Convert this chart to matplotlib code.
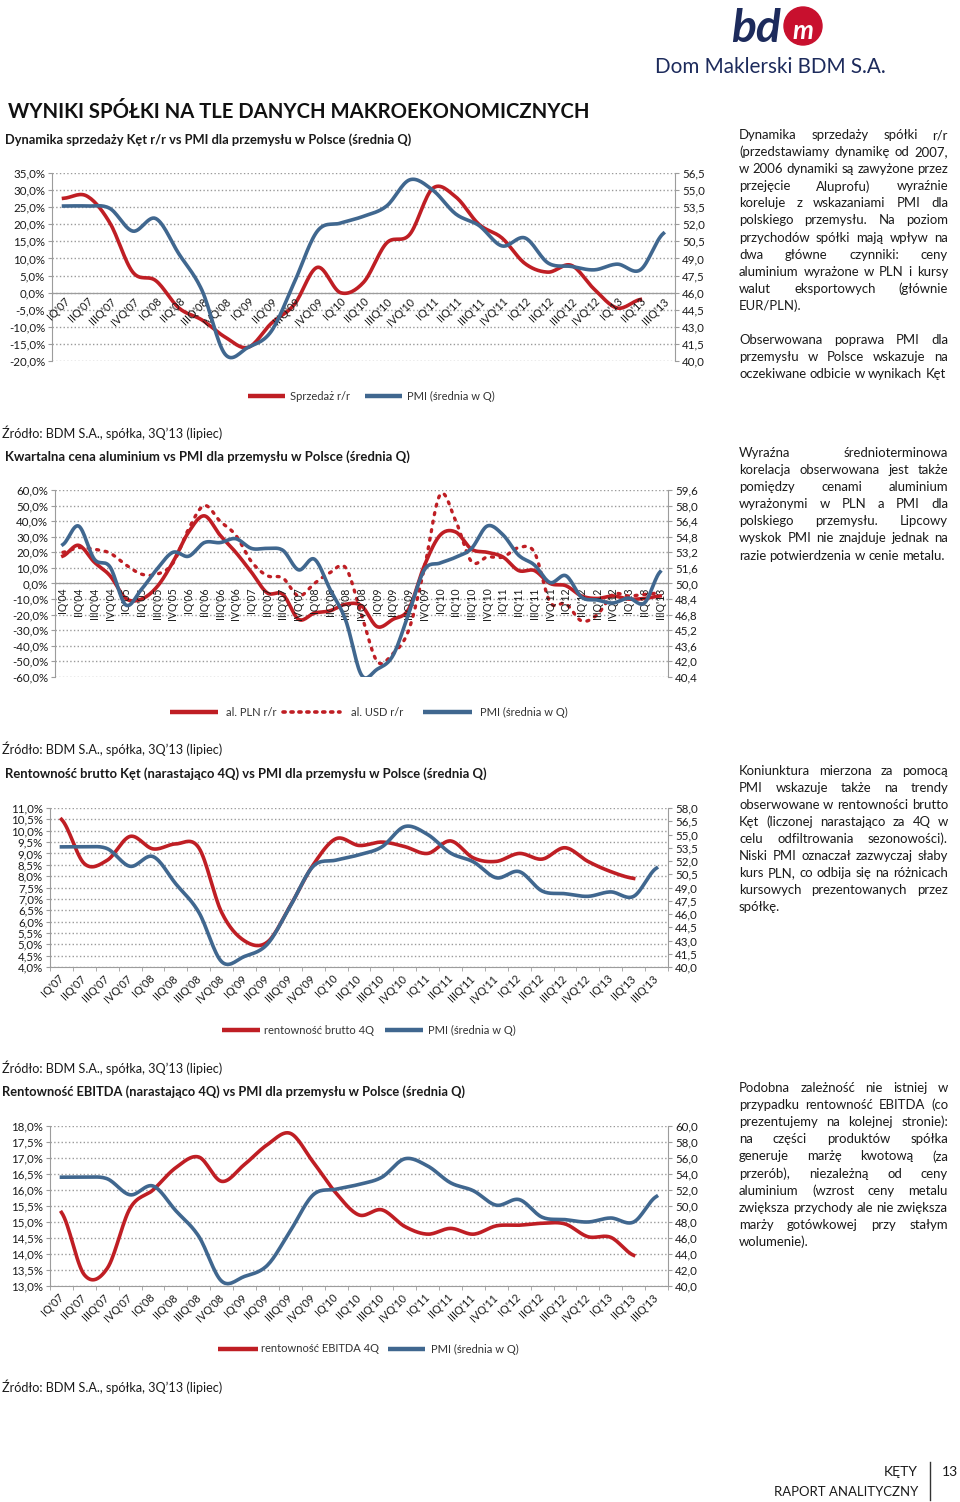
import numpy as np
import matplotlib
matplotlib.use('Agg')
import matplotlib.pyplot as plt
from matplotlib.ticker import FuncFormatter
from matplotlib.patches import Circle

plt.rcParams['font.family'] = ['Lato', 'DejaVu Sans']

# ---- data ----
kw07 = ["IQ'07", "IIQ'07", "IIIQ'07", "IVQ'07", "IQ'08", "IIQ'08", "IIIQ'08", "IVQ'08",
        "IQ'09", "IIQ'09", "IIIQ'09", "IVQ'09", "IQ'10", "IIQ'10", "IIIQ'10", "IVQ'10",
        "IQ'11", "IIQ'11", "IIIQ'11", "IVQ'11", "IQ'12", "IIQ'12", "IIIQ'12", "IVQ'12",
        "IQ'13", "IIQ'13", "IIIQ'13"]
kw04 = ["IQ'04", "IIQ'04", "IIIQ'04", "IVQ'04", "IQ'05", "IIQ'05", "IIIQ'05", "IVQ'05",
        "IQ'06", "IIQ'06", "IIIQ'06", "IVQ'06"] + kw07

pmi_0406 = [54.0, 55.9, 52.5, 51.7, 47.8, 49.4, 51.5, 53.2, 52.8, 54.2, 54.2, 54.6]
pmi_07 = [53.6, 53.6, 53.4, 51.4, 52.5, 49.4, 46.2, 40.6, 41.2, 42.6, 46.9, 51.4, 52.1,
          52.7, 53.6, 55.9, 55.0, 52.9, 51.9, 50.1, 50.8, 48.6, 48.3, 48.0, 48.5, 48.0, 51.2]

sprzedaz = [27.6, 28.3, 20.5, 6.0, 3.5, -4.5, -8.0, -13.0, -16.0, -9.0, -3.5, 7.4, 0.0,
            3.0, 14.5, 17.0, 30.5, 28.0, 20.0, 16.0, 8.5, 6.0, 8.0, 1.0, -4.5, -2.0]

al_pln = [17.6, 24.5, 13.7, 5.0, -9.6, -10.0, -2.0, 13.7, 33.0, 43.4, 31.0, 20.0, 7.2,
          -6.0, -7.0, -23.0, -19.0, -17.5, -13.3, -14.3, -27.7, -23.0, -16.5, 11.5, 31.0,
          33.0, 22.0, 20.0, 17.0, 8.3, 8.3, 0.0, -1.4, -8.0, -9.6, -8.0, -10.0, -9.6, -8.0]
al_usd = [20, 23, 22, 19.5, 12, 6, 6, 13, 35, 50, 40, 31, 14, 5, 3.5, -8, 0, 7, 10, -20,
          -50, -45, -30, 10, 57, 40, 14, 17, 17, 23, 20, -12, -13, -24, -20, -7, -8, -7, -6]

brutto = [10.5, 8.55, 8.7, 9.75, 9.2, 9.42, 9.25, 6.4, 5.15, 5.1, 6.7, 8.5, 9.65, 9.35,
          9.5, 9.3, 9.0, 9.55, 8.8, 8.65, 9.0, 8.75, 9.25, 8.65, 8.2, 7.9]
ebitda = [15.3, 13.35, 13.55, 15.43, 16.0, 16.7, 17.03, 16.27, 16.8, 17.42, 17.77, 16.87,
          15.9, 15.22, 15.38, 14.86, 14.62, 14.8, 14.62, 14.88, 14.9, 14.96, 14.94, 14.54,
          14.52, 13.96]

RED = '#BF1E24'
BLUE = '#40678F'
GRID = '#9a9a9a'
AXC = '#9c9c9c'
TXT = '#1a1a1a'

W, H = 960, 1502
fig = plt.figure(figsize=(9.6, 15.02), dpi=100)
bg = fig.add_axes([0, 0, 1, 1])
bg.set_xlim(0, W)
bg.set_ylim(H, 0)
bg.axis('off')
renderer = fig.canvas.get_renderer()


def width_of(s, size, weight='normal', style='normal'):
    t = bg.text(0, 0, s, fontsize=size, fontweight=weight, fontstyle=style)
    w = t.get_window_extent(renderer).width
    t.remove()
    return w


def fit(x, y, s, width, weight='bold', ha='left', color=TXT, style='normal'):
    size = 10 * width / width_of(s, 10, weight, style)
    return bg.text(x, y, s, fontsize=size, fontweight=weight, fontstyle=style,
                   ha=ha, va='center', color=color)


def justify(lines, x0, x1, y0, dy, size):
    space = width_of('a b', size) - width_of('ab', size)
    for k, line in enumerate(lines):
        y = y0 + k * dy
        words = line.split()
        widths = [width_of(w, size) for w in words]
        if k == len(lines) - 1 or len(words) == 1:
            gap = space
        else:
            gap = (x1 - x0 - sum(widths)) / (len(words) - 1)
        x = x0
        for w, ww in zip(words, widths):
            bg.text(x, y, w, fontsize=size, va='center', ha='left', color=TXT)
            x += ww + gap


def smooth(vals, n=16):
    # Excel-like smoothed line (Catmull-Rom through the data points)
    y = np.asarray(vals, float)
    p = np.concatenate([[y[0]], y, [y[-1]]])
    xs, ys = [], []
    t = np.linspace(0, 1, n, endpoint=False)
    for i in range(len(y) - 1):
        p0, p1, p2, p3 = p[i], p[i + 1], p[i + 2], p[i + 3]
        ys.append(0.5 * (2 * p1 + (p2 - p0) * t + (2 * p0 - 5 * p1 + 4 * p2 - p3) * t ** 2
                         + (-p0 + 3 * p1 - 3 * p2 + p3) * t ** 3))
        xs.append(i + t)
    xs.append([len(y) - 1])
    ys.append([y[-1]])
    return np.concatenate(xs), np.concatenate(ys)


def pct(v, pos):
    return ('%.1f%%' % v).replace('.', ',')


def num(v, pos):
    return ('%.1f' % v).replace('.', ',')


def make_chart(l, t, r, b, n):
    ax = fig.add_axes([l / W, 1 - b / H, (r - l) / W, (b - t) / H])
    ax2 = ax.twinx()
    for a in (ax, ax2):
        for s in a.spines.values():
            s.set_visible(False)
        a.set_xlim(-0.5, n - 0.5)
        a.tick_params(axis='y', length=3, color=AXC, labelsize=8.3, labelcolor=TXT, pad=2)
    ax.spines['left'].set_visible(True)
    ax.spines['left'].set_color(AXC)
    ax2.spines['right'].set_visible(True)
    ax2.spines['right'].set_color(AXC)
    ax.grid(axis='y', color=GRID, linestyle=':', linewidth=1.0)
    ax.set_axisbelow(True)
    ax.set_xticks([])
    ax.yaxis.set_major_formatter(FuncFormatter(pct))
    ax2.yaxis.set_major_formatter(FuncFormatter(num))
    return ax, ax2


def bottom_axis(ax, labels):
    ax.spines['bottom'].set_visible(True)
    ax.spines['bottom'].set_color(AXC)
    ax.set_xticks(range(len(labels)))
    ax.set_xticklabels(labels, rotation=45, ha='right', va='center',
                       rotation_mode='anchor', fontsize=7.8, color=TXT)
    ax.tick_params(axis='x', length=0, pad=7)
    ax.set_xticks(np.arange(len(labels) + 1) - 0.5, minor=True)
    ax.tick_params(axis='x', which='minor', length=3, color=AXC)


def legend(items, y):
    for x0, x1, xt, color, ls, label in items:
        if ls == 'dot':
            bg.plot([x0, x1], [y, y], color=color, lw=2.6, linestyle=(0, (0.6, 1.6)),
                    dash_capstyle='round')
        else:
            bg.plot([x0, x1], [y, y], color=color, lw=3.2, solid_capstyle='butt')
        bg.text(xt, y, label, fontsize=8, va='center', ha='left', color='#333333')


# ---- header ----
fit(731, 29, 'bd', 50, weight='bold', style='italic', color='#1d2b5c')
bg.add_patch(Circle((803, 26), 19, color='#C8102E'))
bg.text(803, 31, 'm', fontsize=19, fontweight='bold', fontstyle='italic',
        color='white', va='center', ha='center')
fit(655, 67, 'Dom Maklerski BDM S.A.', 230, weight='normal', color='#1d2b5c')
fit(8, 112, 'WYNIKI SPÓŁKI NA TLE DANYCH MAKROEKONOMICZNYCH', 582, color='#111111')

src = 'Źródło: BDM S.A., spółka, 3Q’13 (lipiec)'

# ---- chart 1 ----
fit(5, 140, 'Dynamika sprzedaży Kęt r/r vs PMI dla przemysłu w Polsce (średnia Q)', 407)
ax, ax2 = make_chart(52, 173, 675, 361, len(kw07))
ax.set_ylim(-20, 35)
ax.set_yticks(np.arange(-20, 36, 5))
ax2.set_ylim(40, 56.5)
ax2.set_yticks(np.arange(40, 56.6, 1.5))
ax.axhline(0, color=AXC, lw=0.9)
ax.plot(*smooth(sprzedaz), color=RED, lw=2.6)
ax2.plot(*smooth(pmi_07), color=BLUE, lw=2.6)
for i, lab in enumerate(kw07):
    ax.annotate(lab, (i, 0), xytext=(4, -7), textcoords='offset pixels', rotation=45,
                ha='right', va='center', rotation_mode='anchor', fontsize=7.8,
                color=TXT, annotation_clip=False)
legend([(248, 285, 290, RED, '-', 'Sprzedaż r/r'),
        (365, 402, 407, BLUE, '-', 'PMI (średnia w Q)')], 396)
fit(2, 433, src, 221, weight='normal')

# ---- chart 2 ----
fit(5, 457, 'Kwartalna cena aluminium vs PMI dla przemysłu w Polsce (średnia Q)', 403)
ax, ax2 = make_chart(55, 490, 668, 677, len(kw04))
ax.set_ylim(-60, 60)
ax.set_yticks(np.arange(-60, 61, 10))
ax2.set_ylim(40.4, 59.6)
ax2.set_yticks(np.linspace(40.4, 59.6, 13))
ax.axhline(0, color=AXC, lw=0.9)
ax.plot(*smooth(al_pln), color=RED, lw=2.6)
ax.plot(*smooth(al_usd), color=RED, lw=2.4, linestyle=(0, (0.6, 2.0)),
        dash_capstyle='round')
ax2.plot(*smooth(pmi_0406 + pmi_07), color=BLUE, lw=2.6)
for i, lab in enumerate(kw04):
    ax.annotate(lab, (i, 0), xytext=(0, -4), textcoords='offset pixels', rotation=90,
                ha='right', va='center', rotation_mode='anchor', fontsize=7.6,
                color=TXT, annotation_clip=False)
legend([(170, 218, 226, RED, '-', 'al. PLN r/r'),
        (283, 340, 351, RED, 'dot', 'al. USD r/r'),
        (423, 472, 480, BLUE, '-', 'PMI (średnia w Q)')], 712)
fit(2, 749, src, 221, weight='normal')

# ---- chart 3 ----
fit(5, 774, 'Rentowność brutto Kęt (narastająco 4Q) vs PMI dla przemysłu w Polsce (średnia Q)', 481)
ax, ax2 = make_chart(50, 808, 668, 967, len(kw07))
ax.set_ylim(4, 11)
ax.set_yticks(np.arange(4, 11.01, 0.5))
ax2.set_ylim(40, 58)
ax2.set_yticks(np.arange(40, 58.1, 1.5))
ax.plot(*smooth(brutto), color=RED, lw=2.6)
ax2.plot(*smooth(pmi_07), color=BLUE, lw=2.6)
bottom_axis(ax, kw07)
legend([(222, 260, 264, RED, '-', 'rentowność brutto 4Q'),
        (385, 423, 428, BLUE, '-', 'PMI (średnia w Q)')], 1030)
fit(2, 1068, src, 221, weight='normal')

# ---- chart 4 ----
fit(2, 1092, 'Rentowność EBITDA (narastająco 4Q) vs PMI dla przemysłu w Polsce (średnia Q)', 464)
ax, ax2 = make_chart(50, 1126, 668, 1286, len(kw07))
ax.set_ylim(13, 18)
ax.set_yticks(np.arange(13, 18.01, 0.5))
ax2.set_ylim(40, 60)
ax2.set_yticks(np.arange(40, 60.1, 2))
ax.plot(*smooth(ebitda), color=RED, lw=2.6)
ax2.plot(*smooth(pmi_07), color=BLUE, lw=2.6)
bottom_axis(ax, kw07)
legend([(218, 258, 261, RED, '-', 'rentowność EBITDA 4Q'),
        (388, 425, 431, BLUE, '-', 'PMI (średnia w Q)')], 1349)
fit(2, 1387, src, 221, weight='normal')

# ---- side texts ----
p1 = ["Dynamika sprzedaży spółki r/r",
      "(przedstawiamy dynamikę od 2007,",
      "w 2006 dynamiki są zawyżone przez",
      "przejęcie Aluprofu) wyraźnie",
      "koreluje z wskazaniami PMI dla",
      "polskiego przemysłu. Na poziom",
      "przychodów spółki mają wpływ na",
      "dwa główne czynniki: ceny",
      "aluminium wyrażone w PLN i kursy",
      "walut eksportowych (głównie",
      "EUR/PLN)."]
p2 = ["Obserwowana poprawa PMI dla",
      "przemysłu w Polsce wskazuje na",
      "oczekiwane odbicie w wynikach Kęt"]
p3 = ["Wyraźna średnioterminowa",
      "korelacja obserwowana jest także",
      "pomiędzy cenami aluminium",
      "wyrażonymi w PLN a PMI dla",
      "polskiego przemysłu. Lipcowy",
      "wyskok PMI nie znajduje jednak na",
      "razie potwierdzenia w cenie metalu."]
p4 = ["Koniunktura mierzona za pomocą",
      "PMI wskazuje także na trendy",
      "obserwowane w rentowności brutto",
      "Kęt (liczonej narastająco za 4Q w",
      "celu odfiltrowania sezonowości).",
      "Niski PMI oznaczał zazwyczaj słaby",
      "kurs PLN, co odbija się na różnicach",
      "kursowych prezentowanych przez",
      "spółkę."]
p5 = ["Podobna zależność nie istniej w",
      "przypadku rentowność EBITDA (co",
      "prezentujemy na kolejnej stronie):",
      "na części produktów spółka",
      "generuje marżę kwotową (za",
      "przerób), niezależną od ceny",
      "aluminium (wzrost ceny metalu",
      "zwiększa przychody ale nie zwiększa",
      "marży gotówkowej przy stałym",
      "wolumenie)."]

X0, X1 = 739, 948
full = [l for p in (p1, p2, p3, p4, p5) for l in p[:-1]]
body = 10 * (X1 - X0) / max(width_of(l, 10) for l in full)
justify(p1, X0, X1, 135, 17.1, body)
justify(p2, X0, X1, 340, 17.1, body)
justify(p3, X0, X1, 453, 17.1, body)
justify(p4, X0, X1, 771, 17.0, body)
justify(p5, X0, X1, 1088, 17.1, body)

# ---- footer ----
bg.text(918, 1472, 'KĘTY', fontsize=10, ha='right', va='center', color=TXT)
fit(918, 1492, 'RAPORT ANALITYCZNY', 143, weight='normal', ha='right')
bg.plot([930, 930], [1462, 1500], color='#333333', lw=1)
bg.text(942, 1472, '13', fontsize=10, ha='left', va='center', color=TXT)

fig.savefig('out.png', dpi=100)
